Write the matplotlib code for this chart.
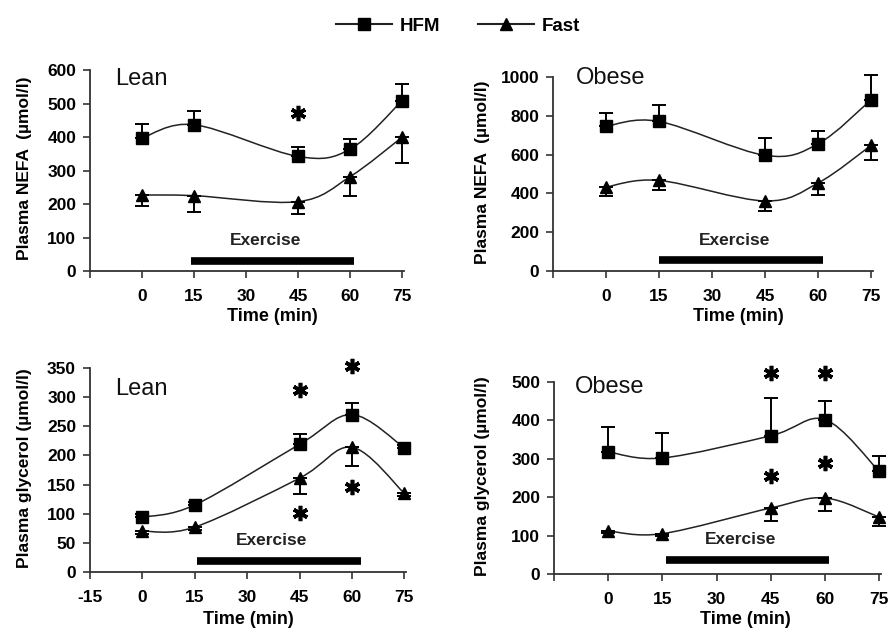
import numpy as np
import matplotlib
matplotlib.use("Agg")
import matplotlib.pyplot as plt
from matplotlib.path import Path
from matplotlib.patches import PathPatch
from matplotlib.lines import Line2D

plt.rcParams['font.family'] = ['Liberation Sans', 'DejaVu Sans']

time = [0, 15, 45, 60, 75]
xticks = [-15, 0, 15, 30, 45, 60, 75]

# Lean NEFA
lean_nefa_hfm = [397, 437, 342, 364, 509]
lean_nefa_hfm_err = [43, 42, 28, 30, 50]
lean_nefa_fast = [227, 225, 207, 282, 400]
lean_nefa_fast_err = [33, 50, 38, 58, 78]
lean_nefa_star = [(45, 472)]
lean_nefa_ex = (14, 61)

# Obese NEFA
obese_nefa_hfm = [746, 771, 596, 656, 883]
obese_nefa_hfm_err = [68, 86, 91, 66, 126]
obese_nefa_fast = [433, 467, 361, 454, 648]
obese_nefa_fast_err = [46, 51, 53, 61, 78]
obese_nefa_star = []
obese_nefa_ex = (15, 61.5)

# Lean glycerol
lean_gly_hfm = [94, 115, 219, 270, 213]
lean_gly_hfm_err = [5, 5, 18, 20, 5]
lean_gly_fast = [70, 77, 161, 214, 135]
lean_gly_fast_err = [5, 5, 28, 33, 5]
lean_gly_star = [(45, 313), (60, 353), (45, 102), (60, 146)]
lean_gly_ex = (15.5, 62.5)

# Obese glycerol
obese_gly_hfm = [318, 302, 360, 402, 267]
obese_gly_hfm_err = [64, 65, 97, 49, 41]
obese_gly_fast = [112, 105, 172, 198, 148]
obese_gly_fast_err = [5, 5, 33, 35, 24]
obese_gly_star = [(45, 523), (60, 523), (45, 254), (60, 289)]
obese_gly_ex = (16, 61)

ylab_nefa = 'Plasma NEFA  (\u00b5mol/l)'
ylab_gly = 'Plasma glycerol (\u00b5mol/l)'

LINE_C = '#222222'


def smooth_path(x, y):
    x = np.asarray(x, float)
    y = np.asarray(y, float)
    P = np.column_stack([x, y])
    n = len(P)
    verts = [P[0]]
    codes = [Path.MOVETO]
    for i in range(n - 1):
        p0 = P[i - 1] if i > 0 else P[i]
        p1 = P[i]
        p2 = P[i + 1]
        p3 = P[i + 2] if i + 2 < n else P[i + 1]
        c1 = p1 + (p2 - p0) / 6.0
        c2 = p2 - (p3 - p1) / 6.0
        verts += [c1, c2, p2]
        codes += [Path.CURVE4] * 3
    return Path(verts, codes)


def noclip(container):
    for art in container.get_children():
        art.set_clip_on(False)


def panel(rect, hfm, hfm_err, fast, fast_err, stars, ex, ylim, yticks,
          ylabel, title, title_pos, ex_y, ex_text_y, show_m15, xlab_pos, ylab_x):
    ax = fig.add_axes(rect)
    for vals in (hfm, fast):
        ax.add_patch(PathPatch(smooth_path(time, vals), fill=False,
                               ec=LINE_C, lw=1.1, zorder=2, clip_on=False))
    z = np.zeros(len(time))
    c1 = ax.errorbar(time, hfm, yerr=[z, hfm_err], fmt='none', ecolor='black',
                     elinewidth=1.4, capsize=5, capthick=1.4, zorder=3)
    c2 = ax.errorbar(time, fast, yerr=[fast_err, z], fmt='none', ecolor='black',
                     elinewidth=1.4, capsize=5, capthick=1.4, zorder=3)
    noclip(c1)
    noclip(c2)
    ax.plot(time, hfm, ls='none', marker='s', ms=8, color='black', zorder=4,
            clip_on=False)
    ax.plot(time, fast, ls='none', marker='^', ms=8, color='black', zorder=4,
            clip_on=False)
    for sx, sy in stars:
        ax.plot([sx], [sy], ls='none', marker=(6, 2, 0), ms=11, mew=2.6,
                color='black', clip_on=False, zorder=5)
    ax.plot(list(ex), [ex_y, ex_y], color='black', lw=5.5,
            solid_capstyle='butt', zorder=3)
    ax.text(np.mean(ex) - 2, ex_text_y, 'Exercise', ha='center', va='center',
            fontsize=12.5, fontweight='bold', color='#222222')
    ax.text(title_pos[0], title_pos[1], title, transform=ax.transAxes,
            fontsize=17, ha='left', va='baseline', color='#111111')
    ax.set_xlim(-15, 75.5)
    ax.set_ylim(*ylim)
    ax.set_xticks(xticks)
    ax.set_xticklabels([('-15' if show_m15 else '')] + [str(t) for t in xticks[1:]])
    ax.set_yticks(yticks)
    ax.set_yticklabels([str(t) for t in yticks])
    for s in ('top', 'right'):
        ax.spines[s].set_visible(False)
    for s in ('left', 'bottom'):
        ax.spines[s].set_linewidth(1.3)
        ax.spines[s].set_color('#333333')
    ax.tick_params(axis='both', direction='out', length=5, width=1.2,
                   color='#333333', labelsize=12.5)
    ax.tick_params(axis='x', pad=8)
    ax.tick_params(axis='y', pad=5)
    for lab in ax.get_xticklabels() + ax.get_yticklabels():
        lab.set_fontweight('bold')
    ax.set_xlabel('Time (min)', fontsize=13, fontweight='bold')
    ax.xaxis.set_label_coords(xlab_pos[0], xlab_pos[1])
    ax.set_ylabel(ylabel, fontsize=12.5, fontweight='bold')
    ax.yaxis.set_label_coords(ylab_x, 0.51)
    return ax


fig = plt.figure(figsize=(8.93, 6.3), dpi=100)

panel([0.1008, 0.5698, 0.3516, 0.319], lean_nefa_hfm, lean_nefa_hfm_err,
      lean_nefa_fast, lean_nefa_fast_err, lean_nefa_star, lean_nefa_ex,
      (0, 600), list(range(0, 601, 100)), ylab_nefa, 'Lean', (0.08, 0.925),
      30, 92, False, (0.58, -0.185), -0.185)

panel([0.6193, 0.5698, 0.3583, 0.308], obese_nefa_hfm, obese_nefa_hfm_err,
      obese_nefa_fast, obese_nefa_fast_err, obese_nefa_star, obese_nefa_ex,
      (0, 1000), list(range(0, 1001, 200)), ylab_nefa, 'Obese', (0.07, 0.965),
      55, 158, False, (0.58, -0.19), -0.197)

panel([0.1008, 0.0921, 0.3539, 0.3238], lean_gly_hfm, lean_gly_hfm_err,
      lean_gly_fast, lean_gly_fast_err, lean_gly_star, lean_gly_ex,
      (0, 350), list(range(0, 351, 50)), ylab_gly, 'Lean', (0.08, 0.868),
      18, 54, True, (0.5, -0.19), -0.184)

panel([0.6204, 0.0889, 0.3662, 0.3048], obese_gly_hfm, obese_gly_hfm_err,
      obese_gly_fast, obese_gly_fast_err, obese_gly_star, obese_gly_ex,
      (0, 500), list(range(0, 501, 100)), ylab_gly, 'Obese', (0.065, 0.94),
      36, 89, False, (0.584, -0.195), -0.196)

handles = [Line2D([], [], color=LINE_C, lw=1.5, marker='s', ms=9, mfc='black', mec='black'),
           Line2D([], [], color=LINE_C, lw=1.5, marker='^', ms=9, mfc='black', mec='black')]
fig.legend(handles, ['HFM', 'Fast'], loc='center', bbox_to_anchor=(0.513, 0.958),
           ncol=2, frameon=False, handlelength=3.0, columnspacing=2.0,
           handletextpad=0.4, prop={'weight': 'bold', 'size': 13.5})

fig.savefig('out.png', dpi=100)
